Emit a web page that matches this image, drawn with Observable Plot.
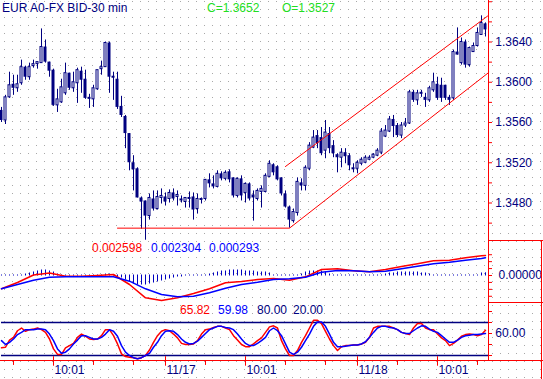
<!DOCTYPE html>
<html><head><meta charset="utf-8">
<script src="https://cdn.jsdelivr.net/npm/d3@7"></script>
<script src="https://cdn.jsdelivr.net/npm/@observablehq/plot@0.6"></script>
<style>
body{margin:0;background:#fff;}
#wrap{position:relative;width:543px;height:379px;overflow:hidden;font-family:"Liberation Sans",Arial,sans-serif;
background-image:url("data:image/svg+xml,%3Csvg xmlns='http://www.w3.org/2000/svg' width='8' height='8'%3E%3Crect x='4' y='1' width='1' height='1' fill='%23a8a8a8'/%3E%3C/svg%3E");}
#wrap svg{position:absolute;left:0;overflow:visible;}
.lbl{position:absolute;font-size:12px;line-height:12px;white-space:nowrap;}
.sep{position:absolute;background:#ff0000;}
</style></head>
<body><div id="wrap"></div>
<script>
// ---------- data ----------
const title = "EUR A0-FX BID-30 min";
const closeLabel = "C=1.3652", openLabel = "O=1.3527";
const openP = [1.3572,1.3562,1.3585,1.3598,1.3594,1.3599,1.3615,1.3605,1.3616,1.3618,
1.3619,1.3635,1.3620,1.3612,1.3577,1.3580,1.3589,1.3609,1.3594,1.3599,
1.3611,1.3603,1.3585,1.3583,1.3593,1.3613,1.3615,1.3639,1.3606,1.3603,
1.3576,1.3566,1.3549,1.3520,1.3514,1.3485,1.3482,1.3467,1.3484,1.3474,
1.3485,1.3486,1.3484,1.3490,1.3486,1.3484,1.3481,1.3484,1.3486,1.3474,
1.3483,1.3484,1.3503,1.3499,1.3496,1.3509,1.3504,1.3511,1.3505,1.3487,
1.3504,1.3490,1.3499,1.3488,1.3484,1.3491,1.3491,1.3506,1.3518,1.3516,
1.3505,1.3489,1.3476,1.3462,1.3470,1.3500,1.3497,1.3514,1.3535,1.3547,
1.3545,1.3532,1.3549,1.3537,1.3528,1.3525,1.3530,1.3527,1.3515,1.3514,
1.3519,1.3520,1.3523,1.3525,1.3527,1.3530,1.3546,1.3551,1.3563,1.3557,
1.3547,1.3557,1.3559,1.3590,1.3582,1.3590,1.3585,1.3582,1.3592,1.3598,
1.3597,1.3597,1.3585,1.3584,1.3630,1.3619,1.3640,1.3617,1.3630,1.3636,
1.3647,1.3658];
const highP = [1.3575,1.3587,1.3610,1.3607,1.3607,1.3622,1.3616,1.3619,1.3622,1.3620,
1.3653,1.3642,1.3620,1.3613,1.3593,1.3603,1.3619,1.3609,1.3610,1.3614,
1.3615,1.3612,1.3588,1.3597,1.3612,1.3621,1.3640,1.3640,1.3610,1.3610,
1.3586,1.3567,1.3549,1.3527,1.3515,1.3486,1.3482,1.3489,1.3492,1.3492,
1.3494,1.3490,1.3493,1.3494,1.3492,1.3487,1.3485,1.3491,1.3490,1.3489,
1.3485,1.3503,1.3509,1.3507,1.3512,1.3511,1.3512,1.3513,1.3505,1.3505,
1.3507,1.3500,1.3500,1.3492,1.3494,1.3497,1.3509,1.3522,1.3519,1.3517,
1.3505,1.3492,1.3477,1.3474,1.3505,1.3504,1.3517,1.3540,1.3552,1.3552,
1.3555,1.3562,1.3555,1.3542,1.3529,1.3534,1.3534,1.3529,1.3519,1.3522,
1.3525,1.3527,1.3527,1.3529,1.3534,1.3554,1.3557,1.3566,1.3567,1.3559,
1.3560,1.3564,1.3592,1.3592,1.3592,1.3592,1.3589,1.3596,1.3609,1.3605,
1.3604,1.3597,1.3587,1.3632,1.3654,1.3644,1.3642,1.3635,1.3639,1.3654,
1.3666,1.3659];
const lowP = [1.3560,1.3558,1.3584,1.3587,1.3590,1.3597,1.3602,1.3602,1.3614,1.3613,
1.3619,1.3619,1.3605,1.3576,1.3570,1.3579,1.3587,1.3592,1.3590,1.3579,
1.3589,1.3583,1.3574,1.3575,1.3592,1.3607,1.3615,1.3589,1.3582,1.3573,
1.3565,1.3534,1.3512,1.3492,1.3485,1.3454,1.3443,1.3463,1.3472,1.3473,
1.3479,1.3477,1.3480,1.3482,1.3477,1.3480,1.3475,1.3475,1.3463,1.3469,
1.3479,1.3482,1.3495,1.3494,1.3495,1.3502,1.3502,1.3500,1.3485,1.3485,
1.3482,1.3480,1.3482,1.3462,1.3482,1.3475,1.3490,1.3505,1.3507,1.3502,
1.3487,1.3475,1.3455,1.3460,1.3467,1.3492,1.3492,1.3512,1.3534,1.3534,
1.3527,1.3524,1.3529,1.3525,1.3510,1.3515,1.3519,1.3512,1.3510,1.3509,
1.3517,1.3519,1.3522,1.3524,1.3526,1.3528,1.3545,1.3550,1.3545,1.3545,
1.3544,1.3555,1.3558,1.3580,1.3577,1.3585,1.3575,1.3580,1.3590,1.3582,
1.3580,1.3582,1.3577,1.3582,1.3627,1.3617,1.3614,1.3615,1.3630,1.3635,
1.3647,1.3645];
const closeP = [1.3562,1.3585,1.3597,1.3594,1.3598,1.3615,1.3605,1.3615,1.3618,1.3620,
1.3635,1.3620,1.3611,1.3577,1.3583,1.3595,1.3609,1.3594,1.3600,1.3612,
1.3602,1.3584,1.3583,1.3594,1.3612,1.3615,1.3639,1.3605,1.3604,1.3575,
1.3567,1.3549,1.3520,1.3513,1.3485,1.3481,1.3467,1.3485,1.3474,1.3486,
1.3487,1.3481,1.3490,1.3484,1.3488,1.3482,1.3485,1.3485,1.3473,1.3484,
1.3484,1.3503,1.3499,1.3496,1.3509,1.3504,1.3510,1.3503,1.3487,1.3504,
1.3487,1.3499,1.3484,1.3485,1.3492,1.3494,1.3507,1.3519,1.3510,1.3503,
1.3489,1.3476,1.3463,1.3471,1.3501,1.3497,1.3515,1.3537,1.3545,1.3539,
1.3529,1.3550,1.3534,1.3529,1.3525,1.3530,1.3526,1.3517,1.3513,1.3520,
1.3523,1.3525,1.3525,1.3528,1.3532,1.3551,1.3552,1.3563,1.3556,1.3547,
1.3557,1.3559,1.3590,1.3582,1.3589,1.3588,1.3582,1.3594,1.3600,1.3584,
1.3584,1.3584,1.3582,1.3630,1.3627,1.3640,1.3617,1.3634,1.3636,1.3649,
1.3659,1.3652];

// trend lines (candle index, price)
const lineI1 = [28.9, 72, 70.9];
const lineP1 = [1.3455, 1.3455, 1.3516];
const lineI2 = [72, 121.9, 121.6];
const lineP2 = [1.3455, 1.3610, 1.3666];

// MACD (sampled every 4 bars)
const macdIdx = [0,4,8,12,16,20,24,28,32,36,40,44,48,52,56,60,64,68,72,76,80,84,88,92,96,100,104,108,112,116,120,121];
const macdVal = [-0.00173,-0.00091,0.00007,0.00033,-0.00009,-0.00009,0,0.00013,-0.00117,-0.00290,-0.00325,-0.00290,-0.00234,-0.00173,-0.00095,-0.00078,-0.00052,-0.00039,-0.00061,-0.00017,0.00078,0.00087,0.00061,0.00048,0.00078,0.00117,0.00152,0.00191,0.00199,0.00230,0.00256,0.002598];
const signalVal = [-0.00173,-0.00117,-0.00061,-0.00022,-0.00017,-0.00017,-0.00017,-0.00017,-0.00074,-0.00173,-0.00247,-0.00277,-0.00269,-0.00225,-0.00165,-0.00117,-0.00087,-0.00052,-0.00043,-0.00022,0.00043,0.00065,0.00061,0.00048,0.00056,0.00087,0.00121,0.00152,0.00173,0.00199,0.00221,0.002304];
const histVal = [0,0,0,0,0,0,0.00013,0.00026,0.00039,0.00052,
0.00065,0.00065,0.00052,0.00039,0.00013,0,0,0,0,0,
0,0,0,0,0,0,0.00013,0.00013,0,-0.00013,
-0.00026,-0.00052,-0.00078,-0.00104,-0.00117,-0.00117,-0.00117,-0.00104,-0.00091,-0.00078,
-0.00065,-0.00052,-0.00039,-0.00026,-0.00013,-0.00013,0,0,0,0,
0,0,0.00013,0.00026,0.00039,0.00052,0.00052,0.00065,0.00065,0.00065,
0.00065,0.00052,0.00052,0.00052,0.00039,0.00039,0.00039,0.00026,0,0,
0,0,0,0,0,0.00013,0.00039,0.00052,0.00052,0.00052,
0.00052,0.00039,0.00013,0,0,0,0,0,0,0,
0,0,0,0,0,0,0.00013,0.00026,0.00026,0.00039,
0.00039,0.00039,0.00039,0.00039,0.00039,0.00026,0.00026,0.00013,0,0,
0,0,0,0,0,0,0,0,0,0,
0.00026,0.00029];
const macdLabels = ["0.002598","0.002304","0.000293"];

// Stochastics
const stochK = [34,35,48,53,65,70,64,67,68,70,67,62,50,32,22,22,34,38,42,53,
59,55,50,49,50,56,67,67,56,41,23,18,17,16,14,16,20,30,44,56,
64,67,65,59,52,42,40,40,41,47,59,67,68,71,73,73,70,67,56,48,
40,36,36,41,47,52,62,72,74,70,47,32,20,20,29,44,56,70,84,84,
78,64,50,38,29,36,38,38,39,39,41,44,53,70,73,73,73,73,70,67,
62,60,58,70,78,78,70,67,67,59,52,47,38,42,48,55,58,59,58,56,58,65.82];
const stochD = [47,40,44,50,58,62,67,67,67,68,68,67,59,47,32,24,26,32,41,48,
56,56,53,50,50,53,59,67,64,55,38,26,20,16,14,16,20,24,35,44,
56,64,65,64,58,50,44,41,42,46,53,60,67,70,73,73,71,70,67,59,
50,42,38,38,42,47,53,65,70,65,56,41,26,22,26,35,47,59,73,81,
81,73,59,44,36,36,37,38,39,39,41,45,53,62,70,73,73,71,70,67,
62,60,60,65,70,74,73,68,64,62,56,50,44,44,48,53,56,57,58,58,59,59.98];
const stochLevels = [80, 20];
const stochLabels = ["65.82","59.98","80.00","20.00"];

// axes
const priceTicks = [1.3680,1.3660,1.3640,1.3620,1.3600,1.3580,1.3560,1.3540,1.3520,1.3500,1.3480,1.3460];
const priceLabels = [1.3640,1.3600,1.3560,1.3520,1.3480];
const macdTicks = [-0.0027,-0.0018,-0.0009,0,0.0009,0.0018,0.0027];
const macdAxisLabel = [0];
const stochTicks = [100,80,60,40,20];
const stochAxisLabel = [60];
const xTickIdx = [13,41,61,89,109];
const xTickLabels = ["10:01","11/17","10:01","11/18","10:01"];
const xMinorIdx = [3,13,23,33,41,51,61,71,81,89,99,109,119];

// ---------- drawing ----------
const NAVY = "#000080", RED = "#ff0000", BLUE = "#0000ff", HIST = "#0000c0", GREEN = "#22dd22";
const FONT = "Liberation Sans, Arial, sans-serif";
const wrap = document.getElementById("wrap");
// Plot shifts marks by +0.5px for crisp lines, so the range is set half a pixel left
const X = {domain:[0,121], range:[1,485], axis:null};
const AX = 121.75; // axis position in index units

function panel(top, height, y, marks){
  const svg = Plot.plot({width:543, height, marginTop:0, marginBottom:0, marginLeft:0, marginRight:0,
    x:X, y:{...y, axis:null}, style:{background:"transparent", fontFamily:FONT, fontSize:"12px", overflow:"visible"}, marks});
  svg.style.top = top + "px";
  wrap.appendChild(svg);
}
function label(text, left, top, color){
  const d = document.createElement("div");
  d.className = "lbl"; d.textContent = text;
  d.style.left = left + "px"; d.style.top = top + "px"; d.style.color = color;
  wrap.appendChild(d);
}
function sep(l,t,w,h){ const d=document.createElement("div"); d.className="sep";
  Object.assign(d.style,{left:l+"px",top:t+"px",width:w+"px",height:h+"px"}); wrap.appendChild(d); }

const candles = openP.map((o,i)=>({i, open:o, high:highP[i], low:lowP[i], close:closeP[i]}));
const bull = candles.filter(d=>d.close>=d.open), bear = candles.filter(d=>d.close<d.open);
const tl = lineI1.map((v,k)=>({x1:v, y1:lineP1[k], x2:lineI2[k], y2:lineP2[k]}));

// price panel
panel(0, 240, {domain:[1.3640,1.3480], range:[41.5,202.5]}, [
  Plot.ruleX(candles, {x:"i", y1:"low", y2:"high", stroke:NAVY}),
  Plot.rect(bear, {x1:d=>d.i-0.375, x2:d=>d.i+0.375, y1:"open", y2:"close", fill:NAVY}),
  Plot.rect(bull, {x1:d=>d.i-0.25, x2:d=>d.i+0.25, y1:"open", y2:"close", fill:"white", stroke:NAVY}),
  Plot.link(tl, {x1:"x1", y1:"y1", x2:"x2", y2:"y2", stroke:RED}),
  Plot.ruleY(priceTicks, {y:d=>d, x1:AX, x2:AX+1, stroke:RED}),
  Plot.text(priceLabels, {y:d=>d, x:AX+1.7, text:d=>d.toFixed(4), textAnchor:"start", fill:NAVY, fontSize:12})
]);

// MACD panel
const macdData = macdIdx.map((v,k)=>({i:v, m:macdVal[k], s:signalVal[k]}));
const histData = histVal.map((v,i)=>({i, h:v}));
panel(240, 62, {domain:[0,0.0026], range:[35,15]}, [
  Plot.ruleX(histData, {x:"i", y1:0, y2:"h", stroke:HIST, strokeLinecap:"square"}),
  Plot.line(macdData, {x:"i", y:"m", stroke:RED}),
  Plot.line(macdData, {x:"i", y:"s", stroke:BLUE}),
  Plot.ruleY(macdTicks, {y:d=>d, x1:AX, x2:AX+1, stroke:RED}),
  Plot.text(macdAxisLabel, {y:d=>d, x:AX+2.5, text:d=>d.toFixed(5), textAnchor:"start", fill:NAVY, fontSize:12})
]);

// Stochastics panel
const stochData = stochK.map((v,i)=>({i, k:v, d:stochD[i]}));
panel(302, 58, {domain:[20,80], range:[53,20]}, [
  Plot.ruleY(stochLevels, {y:d=>d, x1:0, x2:AX, stroke:NAVY, strokeWidth:1.3}),
  Plot.line(stochData, {x:"i", y:"k", stroke:RED}),
  Plot.line(stochData, {x:"i", y:"d", stroke:BLUE}),
  Plot.ruleY(stochTicks, {y:d=>d, x1:AX, x2:AX+1, stroke:RED}),
  Plot.text(stochAxisLabel, {y:d=>d, x:AX+1.7, text:d=>d.toFixed(2), textAnchor:"start", fill:NAVY, fontSize:12})
]);

// time axis
panel(360, 19, {domain:[0,1], range:[0,19]}, [
  Plot.ruleX(xMinorIdx, {x:d=>d, y1:0, y2:0.26, stroke:RED}),
  Plot.ruleX(xTickIdx, {x:d=>d, y1:-0.2, y2:0.3, stroke:RED}),
  Plot.text(xTickIdx, {x:d=>d, y:0.28, text:(d,k)=>xTickLabels[k], textAnchor:"start", lineAnchor:"top", dx:1, fill:NAVY, fontSize:12})
]);

// frame separators
sep(488, 0, 1, 360);
sep(488, 240, 55, 1);
sep(488, 302, 55, 1);
sep(0, 360, 543, 1);
sep(541, 240, 1, 139);

// text labels
label(title, 2, 2, NAVY);
label(closeLabel, 207, 2, GREEN);
label(openLabel, 282, 2, GREEN);
label(macdLabels[0], 92, 242, RED);
label(macdLabels[1], 151, 242, BLUE);
label(macdLabels[2], 209, 242, BLUE);
label(stochLabels[0], 180, 304, RED);
label(stochLabels[1], 218, 304, BLUE);
label(stochLabels[2], 257, 304, NAVY);
label(stochLabels[3], 293, 304, NAVY);
</script></body></html>
